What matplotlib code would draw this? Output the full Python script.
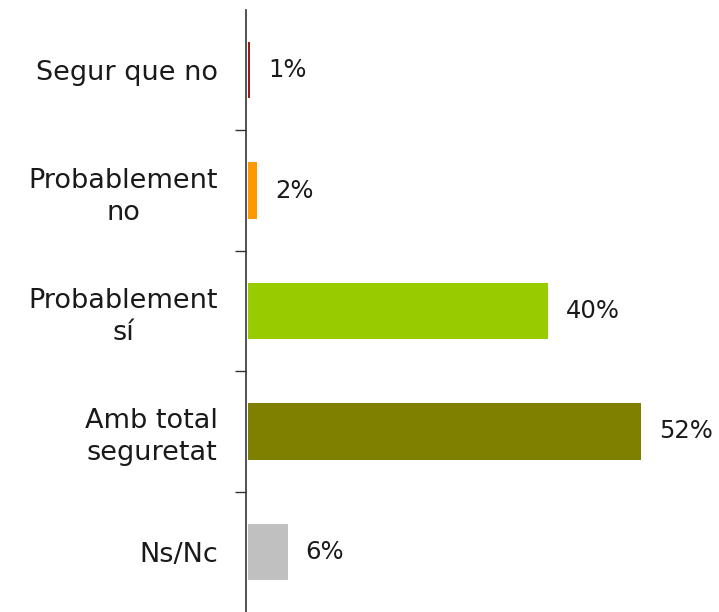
import matplotlib
matplotlib.use("Agg")
import matplotlib.pyplot as plt

categories = ["Segur que no", "Probablement\nno", "Probablement\nsí", "Amb total\nseguretat", "Ns/Nc"]
values = [0.3, 1.2, 40.0, 52.4, 5.3]
labels = ["1%", "2%", "40%", "52%", "6%"]
colors = ["#9B1B1B", "#FF9900", "#99CC00", "#808000", "#C0C0C0"]

plt.rcParams['font.family'] = ['DejaVu Sans']

fig = plt.figure(figsize=(7.19, 6.12), dpi=100)
ax = fig.add_axes([246 / 719, 0, 473 / 719, 602 / 612])

y = list(range(len(categories)))
ax.barh(y, values, height=0.47, color=colors, left=0.25)
ax.set_ylim(len(categories) - 0.5, -0.5)
ax.set_xlim(0, 63)

for yi, v, lab in zip(y, values, labels):
    ax.text(v + 0.25 + 2.4, yi, lab, va='center', ha='left', fontsize=17.5, color='#1a1a1a')

ax.set_yticks([i + 0.5 for i in range(len(categories) - 1)])
ax.set_yticklabels([])
ax.set_yticks(y, minor=True)
ax.set_yticklabels(categories, minor=True, fontsize=19.5, color='#1a1a1a',
                   multialignment='center', linespacing=1.3)
ax.tick_params(axis='y', which='major', length=8, width=1, color='#333333', direction='out')
ax.tick_params(axis='y', which='minor', length=0, pad=20)
ax.set_xticks([])
for s in ['top', 'right', 'bottom']:
    ax.spines[s].set_visible(False)
ax.spines['left'].set_color('#333333')
ax.spines['left'].set_linewidth(1.2)

fig.savefig("out.png", dpi=100)
